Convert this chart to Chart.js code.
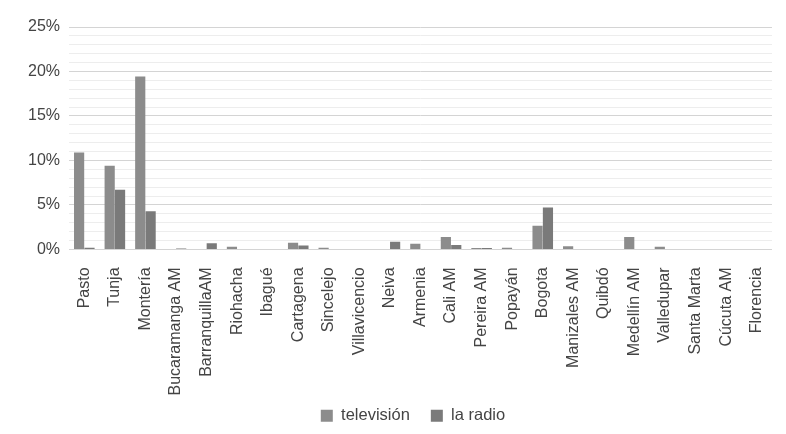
<!DOCTYPE html>
<html>
<head>
<meta charset="utf-8">
<script src="https://cdn.jsdelivr.net/npm/chart.js@4"></script>
<style>
html,body{margin:0;padding:0;background:#fff;}
#wrap{width:786px;height:434px;}
</style>
</head>
<body>
<div id="wrap"><canvas id="c" width="786" height="434"></canvas></div>
<script>
const categories = ["Pasto","Tunja","Montería","Bucaramanga AM","BarranquillaAM","Riohacha","Ibagué","Cartagena","Sincelejo","Villavicencio","Neiva","Armenia","Cali AM","Pereira AM","Popayán","Bogota","Manizales AM","Quibdó","Medellín AM","Valledupar","Santa Marta","Cúcuta AM","Florencia"];
const television = [10.9, 9.4, 19.45, 0.05, 0.05, 0.3, 0, 0.75, 0.2, 0, 0, 0.65, 1.4, 0.15, 0.2, 2.65, 0.35, 0.05, 1.4, 0.3, 0.05, 0, 0];
const radio =      [0.2, 6.7, 4.3, 0.1, 0.7, 0.05, 0, 0.45, 0, 0, 0.85, 0, 0.5, 0.15, 0, 4.7, 0.05, 0.05, 0, 0, 0, 0, 0];
const yTicks = [0, 5, 10, 15, 20, 25];

Chart.defaults.font.family = "'Liberation Sans', Arial, sans-serif";
Chart.defaults.font.size = 16;
Chart.defaults.color = '#444';

const LEGEND_SHIFT = 19;
const LEGEND_XSHIFT = 26;
const legendTweak = {
  id: 'legendTweak',
  afterInit(chart) {
    const lg = chart.legend;
    if (!lg) return;
    const fit = lg.fit.bind(lg);
    lg.fit = function () { fit(); this.height -= LEGEND_SHIFT; };
    const draw = lg.draw.bind(lg);
    lg.draw = function () {
      const t = this.top, l = this.left;
      this.top = t - LEGEND_SHIFT;
      this.left = l + LEGEND_XSHIFT;
      draw();
      this.top = t;
      this.left = l;
    };
  }
};

new Chart(document.getElementById('c'), {
  type: 'bar',
  data: {
    labels: categories,
    datasets: [
      {label: 'televisión', data: television, backgroundColor: '#8c8c8c', barPercentage: 0.98, categoryPercentage: 0.68},
      {label: 'la radio', data: radio, backgroundColor: '#7a7a7a', barPercentage: 0.98, categoryPercentage: 0.68}
    ]
  },
  plugins: [legendTweak],
  options: {
    responsive: false,
    animation: false,
    layout: {padding: {top: 27, right: 5, left: 19, bottom: 0}},
    plugins: {
      legend: {
        position: 'bottom',
        labels: {boxWidth: 12, boxHeight: 12, color: '#444', font: {size: 16.5}, padding: 21}
      },
      tooltip: {enabled: false}
    },
    scales: {
      x: {
        grid: {display: false},
        border: {display: false},
        ticks: {minRotation: 90, maxRotation: 90, autoSkip: false, color: '#444', font: {size: 16}, padding: 10}
      },
      y: {
        min: 0, max: 25,
        border: {display: false},
        grid: {
          color: ctx => (ctx.tick && ctx.tick.value % 5 === 0) ? '#d4d4d4' : '#ededed',
          lineWidth: 1,
          drawTicks: false
        },
        ticks: {
          stepSize: 1,
          autoSkip: false,
          padding: 9,
          color: '#444',
          font: {size: 16},
          callback: v => (yTicks.includes(v) ? v + '%' : '')
        }
      }
    }
  }
});
</script>
</body>
</html>
